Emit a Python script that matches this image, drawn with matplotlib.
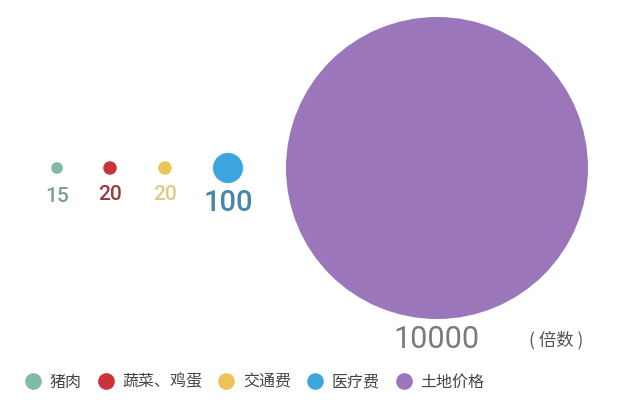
import matplotlib.pyplot as plt
from matplotlib.lines import Line2D

plt.rcParams['font.family'] = ['Noto Sans CJK SC', 'DejaVu Sans']

names = ["猪肉", "蔬菜、鸡蛋", "交通费", "医疗费", "土地价格"]
values = [15, 20, 20, 100, 10000]
labels = ["15", "20", "20", "100", "10000"]
colors = ["#7fbca6", "#c9333a", "#ecc356", "#3ea6de", "#9b76bb"]
label_colors = ["#7d9c97", "#9a3840", "#e2ca85", "#4887aa", "#7a7a7a"]

# layout (pixel space)
xs = [57, 110, 165, 228, 437]
y_center = 168
label_y = [197, 195, 195, 203, 340]
label_sizes = [15, 15, 15, 21, 22]
label_weights = ['medium', 'medium', 'medium', 'medium', 'normal']

fig = plt.figure(figsize=(6.35, 4.04), dpi=100)
ax = fig.add_axes([0, 0, 1, 1])
ax.set_xlim(0, 635)
ax.set_ylim(404, 0)
ax.axis('off')

# area proportional to value: 10000 -> radius ~151 px
k = 4 * (1.51 * 0.72) ** 2
ax.scatter(xs, [y_center] * len(xs), s=[k * v for v in values], c=colors,
           linewidths=0, zorder=2)

for x, ly, lab, col, fs, fw in zip(xs, label_y, labels, label_colors, label_sizes, label_weights):
    ax.text(x, ly, lab, color=col, fontsize=fs, ha='center', va='center',
            family=['Roboto', 'Noto Sans CJK SC'], fontweight=fw)

ax.text(556, 340, "( 倍数 )", color="#555555", fontsize=12.5, ha='center', va='center')

handles = [Line2D([], [], marker='o', linestyle='none', markersize=12,
                  markerfacecolor=c, markeredgewidth=0) for c in colors]
fig.legend(handles, names, loc='center left', bbox_to_anchor=(25 / 635, 1 - 382 / 404),
           ncol=5, frameon=False, fontsize=11.5, handlelength=1.0,
           handletextpad=0.55, columnspacing=1.0, borderpad=0, borderaxespad=0,
           labelcolor="#444444")

fig.savefig("out.png", dpi=100)
